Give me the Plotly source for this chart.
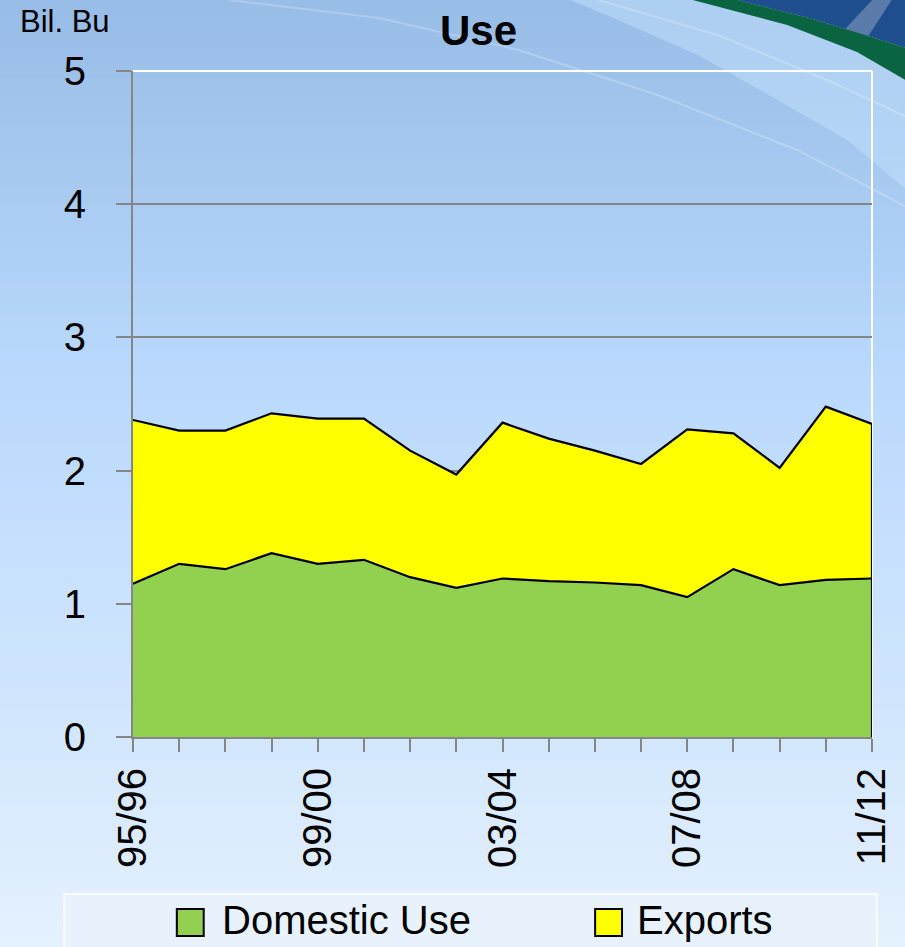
import plotly.graph_objects as go

# ---------------- data ----------------
years = ['95/96', '96/97', '97/98', '98/99', '99/00', '00/01', '01/02', '02/03',
         '03/04', '04/05', '05/06', '06/07', '07/08', '08/09', '09/10', '10/11', '11/12']
domestic = [1.15, 1.30, 1.26, 1.38, 1.30, 1.33, 1.20, 1.12,
            1.19, 1.17, 1.16, 1.14, 1.05, 1.26, 1.14, 1.18, 1.19]
exports = [1.23, 1.00, 1.04, 1.05, 1.09, 1.06, 0.95, 0.85,
           1.17, 1.07, 0.99, 0.91, 1.26, 1.02, 0.88, 1.30, 1.16]
tick_labels = ['95/96', '', '', '', '99/00', '', '', '', '03/04', '', '', '',
               '07/08', '', '', '', '11/12']
y_ticks = [0, 1, 2, 3, 4, 5]
series_names = ['Domestic Use', 'Exports']
series_colors = ['#92d050', '#ffff00']

# ---------------- geometry helpers (layout only) ----------------
W, H = 905, 947
L, R, T, B = 133, 30, 71, 210
PW, PH = W - L - R, H - T - B
FONT = 'Liberation Sans, Arial, sans-serif'
GREY = '#868686'


def px(x):
    return (x - L) / PW


def py(y):
    return (H - B - y) / PH


def path(points, close=True):
    s = 'M ' + ' L '.join(f'{px(a):.4f},{py(b):.4f}' for a, b in points)
    return s + (' Z' if close else '')


def lerp(c1, c2, t):
    a = [int(c1[i:i + 2], 16) for i in (1, 3, 5)]
    b = [int(c2[i:i + 2], 16) for i in (1, 3, 5)]
    return '#' + ''.join(f'{round(a[k] + (b[k] - a[k]) * t):02x}' for k in range(3))


fig = go.Figure()

# stacked areas
fig.add_trace(go.Scatter(x=years, y=domestic, name=series_names[0], stackgroup='use',
                         mode='lines', line=dict(color='black', width=2.2),
                         fillcolor=series_colors[0], showlegend=False))
fig.add_trace(go.Scatter(x=years, y=exports, name=series_names[1], stackgroup='use',
                         mode='lines', line=dict(color='black', width=2.2),
                         fillcolor=series_colors[1], showlegend=False))
# right-hand edge of the stacked polygon
fig.add_trace(go.Scatter(x=[years[-1], years[-1]], y=[0, domestic[-1] + exports[-1]],
                         mode='lines', line=dict(color='black', width=2.2),
                         hoverinfo='skip', showlegend=False))

shapes = []
# background gradient
stops = [(0, '#97bce6'), (380, '#bad9fd'), (800, '#d8eafd'), (H, '#e5f1fe')]
n = 60
for i in range(n):
    y0 = H * i / n
    y1 = H * (i + 1) / n + 1
    ym = (y0 + y1) / 2
    for j in range(len(stops) - 1):
        if stops[j][0] <= ym <= stops[j + 1][0]:
            t = (ym - stops[j][0]) / (stops[j + 1][0] - stops[j][0])
            col = lerp(stops[j][1], stops[j + 1][1], t)
            break
    shapes.append(dict(type='rect', xref='paper', yref='paper', layer='below',
                       x0=px(-5), x1=px(W + 5), y0=py(y0), y1=py(y1),
                       fillcolor=col, line=dict(width=0)))
# lighter swoosh under the top-right decoration
shapes.append(dict(type='path', xref='paper', yref='paper', layer='below',
                   path=path([(560, -5), (697, 0), (790, 25), (860, 52), (910, 80),
                              (910, 190), (850, 140), (780, 100), (700, 55), (620, 20)]),
                   fillcolor='rgba(200,228,255,0.45)', line=dict(width=0)))
# faint white streaks
for pts in ([(230, 0), (380, 18), (520, 50), (660, 95), (800, 150), (910, 207)],
            [(600, 0), (720, 35), (830, 80), (910, 117)]):
    shapes.append(dict(type='path', xref='paper', yref='paper', layer='below',
                       path=path(pts, close=False),
                       line=dict(color='rgba(255,255,255,0.22)', width=2)))
# dark blue corner
shapes.append(dict(type='path', xref='paper', yref='paper', layer='below',
                   path=path([(740, -5), (740, 0), (812, 18), (868, 35), (912, 49), (912, -5)]),
                   fillcolor='#1e4e8e', line=dict(width=0)))
shapes.append(dict(type='path', xref='paper', yref='paper', layer='below',
                   path=path([(848, 29), (880, -5), (898, -5), (870, 38)]),
                   fillcolor='#5b7cab', line=dict(width=0)))
# green band
shapes.append(dict(type='path', xref='paper', yref='paper', layer='below',
                   path=path([(695, -5), (740, -5), (740, 0), (812, 18), (868, 35), (912, 49),
                              (912, 82), (860, 52), (790, 25), (695, 0)]),
                   fillcolor='#0a6341', line=dict(width=0)))
# plot border top / right (white)
shapes.append(dict(type='line', xref='paper', yref='paper', layer='below',
                   x0=1, x1=1, y0=0, y1=1, line=dict(color='white', width=2)))
shapes.append(dict(type='line', xref='paper', yref='paper', layer='above',
                   x0=0, x1=1, y0=1, y1=1, line=dict(color='white', width=2)))

# legend box and keys
shapes.append(dict(type='rect', xref='paper', yref='paper', layer='below',
                   x0=px(64), x1=px(880), y0=py(894), y1=py(960),
                   fillcolor='#e7f2fd', line=dict(color='#f8fbff', width=2)))
key_x = [177, 597]
text_x = [220, 637]
annotations = []
for k in range(2):
    shapes.append(dict(type='rect', xref='paper', yref='paper', layer='above',
                       x0=px(key_x[k]), x1=px(key_x[k] + 27), y0=py(936), y1=py(909),
                       fillcolor=series_colors[k], line=dict(color='black', width=2)))
    annotations.append(dict(xref='paper', yref='paper', x=px(text_x[k]), y=py(920),
                            xanchor='left', yanchor='middle', showarrow=False,
                            text=series_names[k], font=dict(family=FONT, size=40, color='black')))

annotations.append(dict(xref='paper', yref='paper', x=px(480), y=py(30),
                        xanchor='center', yanchor='middle', showarrow=False,
                        text='<b>Use</b>', font=dict(family=FONT, size=42, color='black')))
annotations.append(dict(xref='paper', yref='paper', x=px(18), y=py(22),
                        xanchor='left', yanchor='middle', showarrow=False,
                        text='Bil. Bu', font=dict(family=FONT, size=31, color='black')))

fig.update_layout(
    width=W, height=H, autosize=False,
    margin=dict(l=L, r=R, t=T, b=B, pad=0),
    paper_bgcolor='#c4dffd',
    plot_bgcolor='rgba(0,0,0,0)',
    showlegend=False,
    shapes=shapes,
    annotations=annotations,
    font=dict(family=FONT, color='black'),
    xaxis=dict(type='category', categoryorder='array', categoryarray=years,
               range=[0, len(years) - 1], tickmode='array', tickvals=years, ticktext=tick_labels,
               tickangle=-90, ticks='outside', ticklen=13, tickwidth=2, tickcolor=GREY,
               showline=True, linecolor=GREY, linewidth=2, showgrid=False, zeroline=False,
               tickfont=dict(family=FONT, size=40, color='black'), ticklabelstandoff=0),
    yaxis=dict(range=[0, 5], tickmode='array', tickvals=y_ticks, ticks='outside',
               ticklen=15, tickwidth=2, tickcolor=GREY, showline=True, linecolor=GREY,
               linewidth=2, showgrid=True, gridcolor=GREY, gridwidth=1.5, zeroline=False,
               tickfont=dict(family=FONT, size=40, color='black'), ticklabelstandoff=22),
)

post = ("document.body.style.margin='0';document.body.style.overflow='hidden';"
        "Plotly.relayout('{plot_id}', {width: %d, height: %d});" % (W, H))
fig.write_html('out.html', config={'displayModeBar': False, 'responsive': False},
               post_script=post)
